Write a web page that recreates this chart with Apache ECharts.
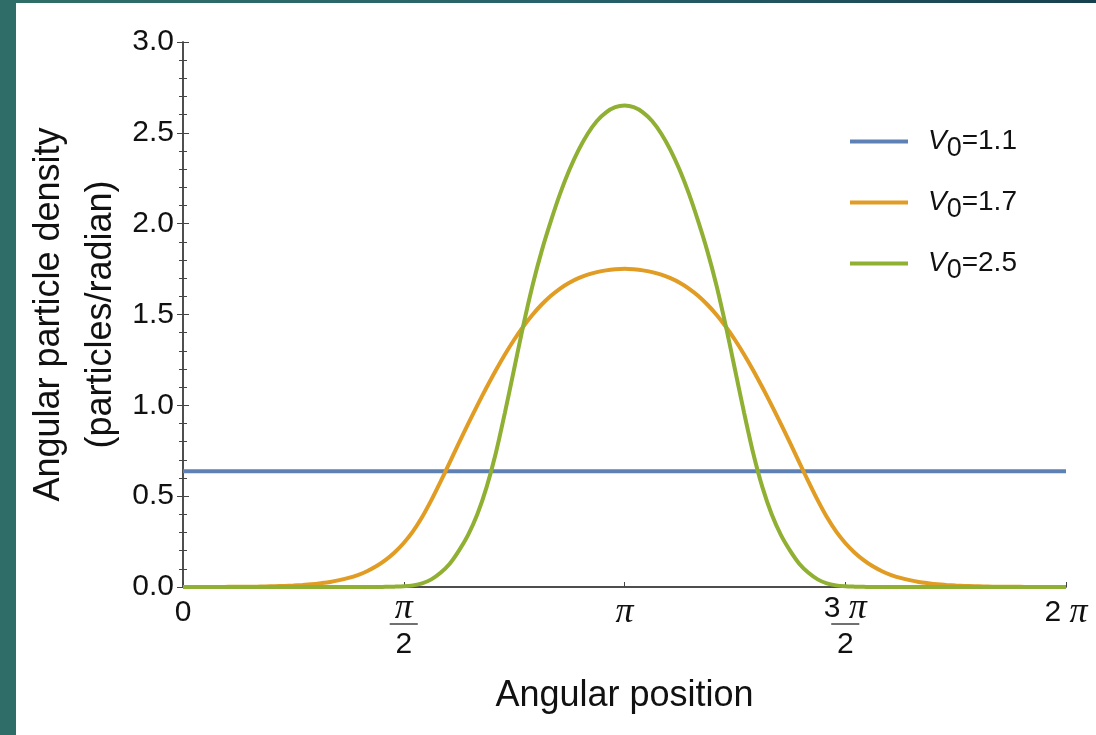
<!DOCTYPE html>
<html>
<head>
<meta charset="utf-8">
<title>Angular particle density</title>
<script src="https://cdn.jsdelivr.net/npm/echarts@6/dist/echarts.min.js"></script>
<style>
html, body { margin: 0; padding: 0; width: 1096px; height: 735px; overflow: hidden;
  background: linear-gradient(to right, #2f6e68 0%, #28626a 50%, #17404e 100%); }
#main { position: absolute; left: 16px; top: 3px; width: 1080px; height: 732px; background: #fff; }
</style>
</head>
<body>
<div id="main"></div>
<script>
// angular position (radians), step pi/48
var angles = [0.0000, 0.0654, 0.1309, 0.1963, 0.2618, 0.3272, 0.3927, 0.4581, 0.5236, 0.5890,
    0.6545, 0.7199, 0.7854, 0.8508, 0.9163, 0.9817, 1.0472, 1.1126, 1.1781, 1.2435,
    1.3090, 1.3744, 1.4399, 1.5053, 1.5708, 1.6362, 1.7017, 1.7671, 1.8326, 1.8980,
    1.9635, 2.0289, 2.0944, 2.1598, 2.2253, 2.2907, 2.3562, 2.4216, 2.4871, 2.5525,
    2.6180, 2.6834, 2.7489, 2.8143, 2.8798, 2.9452, 3.0107, 3.0761, 3.1416, 3.2070,
    3.2725, 3.3379, 3.4034, 3.4688, 3.5343, 3.5997, 3.6652, 3.7306, 3.7961, 3.8615,
    3.9270, 3.9924, 4.0579, 4.1233, 4.1888, 4.2542, 4.3197, 4.3851, 4.4506, 4.5160,
    4.5815, 4.6469, 4.7124, 4.7778, 4.8433, 4.9087, 4.9742, 5.0396, 5.1051, 5.1705,
    5.2360, 5.3014, 5.3669, 5.4323, 5.4978, 5.5632, 5.6287, 5.6941, 5.7596, 5.8250,
    5.8905, 5.9559, 6.0214, 6.0868, 6.1523, 6.2177, 6.2832];

// V0 = 1.1 is flat, so two end points are enough
var flatAngles = [0.0000, 6.2832];
var dens11 = [0.637, 0.637];

// V0 = 1.7
var dens17 = [0.000, 0.000, 0.000, 0.000, 0.000, 0.001, 0.001, 0.001, 0.002, 0.003,
    0.004, 0.006, 0.008, 0.011, 0.015, 0.021, 0.028, 0.038, 0.050, 0.066,
    0.087, 0.114, 0.148, 0.190, 0.242, 0.306, 0.385, 0.478, 0.580, 0.686,
    0.793, 0.898, 1.000, 1.098, 1.192, 1.280, 1.361, 1.434, 1.499, 1.555,
    1.603, 1.643, 1.675, 1.700, 1.719, 1.733, 1.743, 1.749, 1.752, 1.749,
    1.743, 1.733, 1.719, 1.700, 1.675, 1.643, 1.603, 1.555, 1.499, 1.434,
    1.361, 1.280, 1.192, 1.098, 1.000, 0.898, 0.793, 0.686, 0.580, 0.478,
    0.385, 0.306, 0.242, 0.190, 0.148, 0.114, 0.087, 0.066, 0.050, 0.038,
    0.028, 0.021, 0.015, 0.011, 0.008, 0.006, 0.004, 0.003, 0.002, 0.001,
    0.001, 0.001, 0.000, 0.000, 0.000, 0.000, 0.000];

// V0 = 2.5
var dens25 = [0.000, 0.000, 0.000, 0.000, 0.000, 0.000, 0.000, 0.000, 0.000, 0.000,
    0.000, 0.000, 0.000, 0.000, 0.000, 0.000, 0.000, 0.000, 0.000, 0.000,
    0.000, 0.000, 0.001, 0.002, 0.004, 0.009, 0.020, 0.042, 0.078, 0.128,
    0.200, 0.287, 0.400, 0.548, 0.735, 0.960, 1.200, 1.440, 1.660, 1.850,
    2.015, 2.165, 2.295, 2.405, 2.495, 2.565, 2.613, 2.641, 2.650, 2.641,
    2.613, 2.565, 2.495, 2.405, 2.295, 2.165, 2.015, 1.850, 1.660, 1.440,
    1.200, 0.960, 0.735, 0.548, 0.400, 0.287, 0.200, 0.128, 0.078, 0.042,
    0.020, 0.009, 0.004, 0.002, 0.001, 0.000, 0.000, 0.000, 0.000, 0.000,
    0.000, 0.000, 0.000, 0.000, 0.000, 0.000, 0.000, 0.000, 0.000, 0.000,
    0.000, 0.000, 0.000, 0.000, 0.000, 0.000, 0.000];

var seriesNames = ['V0=1.1', 'V0=1.7', 'V0=2.5'];
var seriesAngles = [flatAngles, angles, angles];
var seriesValues = [dens11, dens17, dens25];
var colors = ['#5e81b5', '#e19c24', '#8fb032'];

// tick labels at 0, pi/2, pi, 3pi/2, 2pi
var xTickLabels = [
    '{t|0}',
    '{pi|π}\n{hr|}\n{den|2}',
    '{ps|π}',
    '{num|3 }{pi|π}\n{hr|}\n{den|2}',
    '{t|2 }{ps|π}'
];

var dom = document.getElementById('main');
var myChart = echarts.init(dom);
var option = null;

var fontSans = 'Liberation Sans, Arial, sans-serif';
var fontPi = 'Liberation Serif, serif';
var frameColor = '#444';

var series = [];
for (var i = 0; i < seriesNames.length; i++) {
    var pts = [];
    for (var j = 0; j < seriesAngles[i].length; j++) {
        pts.push([seriesAngles[i][j], seriesValues[i][j]]);
    }
    series.push({
        name: seriesNames[i],
        type: 'line',
        data: pts,
        smooth: 0.3,
        symbol: 'none',
        lineStyle: { width: 4, color: colors[i] },
        itemStyle: { color: colors[i] }
    });
}

option = {
    animation: false,
    color: colors,
    textStyle: { fontFamily: fontSans },
    grid: {
        left: 167,
        right: 30,
        top: 39,
        bottom: 148,
        containLabel: false,
        outerBoundsMode: 'none'
    },
    legend: {
        orient: 'vertical',
        left: 829,
        top: 113,
        itemWidth: 58,
        itemHeight: 4,
        itemGap: 20,
        icon: 'rect',
        data: seriesNames,
        formatter: function (name) {
            var p = name.split('=');
            return '{v|V}{s|0}{t|=' + p[1] + '}';
        },
        textStyle: {
            color: '#111',
            rich: {
                v: { fontSize: 28, fontStyle: 'italic', lineHeight: 34, padding: [0, 0, 0, 15], fontFamily: fontSans, color: '#111' },
                s: { fontSize: 27, lineHeight: 34, padding: [14, 0, 0, 0], fontFamily: fontSans, color: '#111' },
                t: { fontSize: 28, lineHeight: 34, fontFamily: fontSans, color: '#111' }
            }
        }
    },
    xAxis: [{
        type: 'value',
        min: 0,
        max: Math.PI * 2,
        interval: Math.PI / 2,
        position: 'bottom',
        name: 'Angular position',
        nameLocation: 'middle',
        nameGap: 91,
        nameMoveOverlap: false,
        nameTextStyle: { fontSize: 36, color: '#111', fontFamily: fontSans },
        axisLine: { show: true, lineStyle: { color: frameColor, width: 1.5 } },
        axisTick: { show: true, inside: true, length: 5, lineStyle: { color: frameColor } },
        splitLine: { show: false },
        axisLabel: {
            showMinLabel: true,
            showMaxLabel: true,
            margin: 10,
            color: '#111',
            formatter: function (v) {
                return xTickLabels[Math.round(v / (Math.PI / 2))];
            },
            rich: {
                t: { fontSize: 30, lineHeight: 32, fontFamily: fontSans, color: '#111' },
                ps: { fontSize: 36, lineHeight: 32, fontStyle: 'italic', fontFamily: fontPi, color: '#111' },
                num: { fontSize: 30, lineHeight: 24, fontFamily: fontSans, color: '#111' },
                pi: { fontSize: 36, lineHeight: 24, fontStyle: 'italic', fontFamily: fontPi, color: '#111' },
                den: { fontSize: 30, lineHeight: 36, fontFamily: fontSans, color: '#111' },
                hr: { width: 28, height: 0, borderColor: '#222', borderWidth: 0.8, lineHeight: 6 }
            }
        }
    }, {
        type: 'value',
        min: 0,
        max: Math.PI * 2,
        position: 'top',
        axisLine: { show: true, lineStyle: { color: frameColor, width: 1.5 } },
        axisTick: { show: false },
        axisLabel: { show: false },
        splitLine: { show: false }
    }],
    yAxis: [{
        type: 'value',
        min: 0,
        max: 3,
        interval: 0.5,
        position: 'left',
        name: 'Angular particle density\n(particles/radian)',
        nameLocation: 'middle',
        nameRotate: 90,
        nameGap: 56,
        nameMoveOverlap: false,
        nameTextStyle: { fontSize: 36, lineHeight: 52, color: '#111', fontFamily: fontSans },
        axisLine: { show: true, lineStyle: { color: frameColor, width: 1.5 } },
        axisTick: { show: true, inside: true, length: 6, lineStyle: { color: frameColor } },
        minorTick: { show: true, splitNumber: 5, length: 4, lineStyle: { color: frameColor } },
        splitLine: { show: false },
        axisLabel: {
            margin: 9,
            fontSize: 30,
            color: '#111',
            formatter: function (v) { return v.toFixed(1); }
        }
    }, {
        type: 'value',
        min: 0,
        max: 3,
        interval: 0.5,
        position: 'right',
        axisLine: { show: true, lineStyle: { color: frameColor, width: 1.5 } },
        axisTick: { show: true, inside: true, length: 6, lineStyle: { color: frameColor } },
        minorTick: { show: true, splitNumber: 5, length: 4, lineStyle: { color: frameColor } },
        splitLine: { show: false },
        axisLabel: { show: false }
    }],
    series: series
};

if (option && typeof option === 'object') {
    myChart.setOption(option, true);
}
</script>
</body>
</html>
